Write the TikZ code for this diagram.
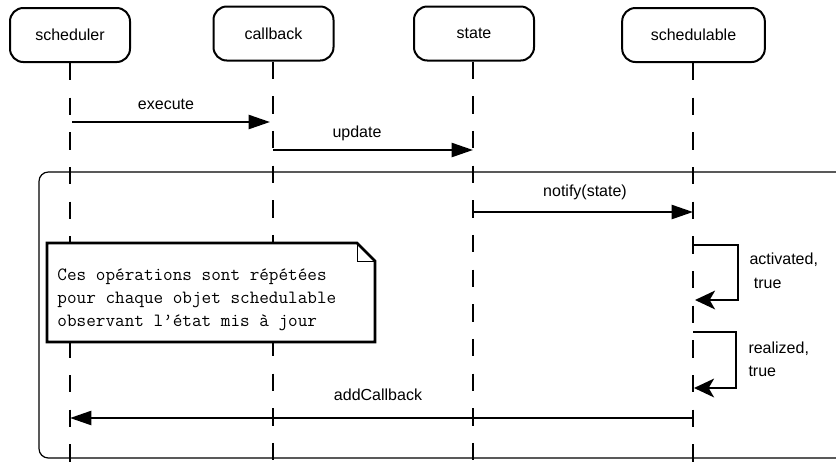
\documentclass[tikz,border=0pt]{standalone}
\usepackage{fontspec}
\setmainfont{Liberation Sans}
\usetikzlibrary{arrows.meta,positioning}

\tikzset{every picture/.style={line width=0.75pt}}
\tikzset{
  actor/.style={draw, line width=1.5pt, rounded corners=10pt, minimum width=90pt,
    minimum height=40.5pt, inner sep=0.75pt, font=\fontsize{12}{14}\selectfont},
  lifeline/.style={line width=1.5pt, dash pattern=on 13pt off 13pt},
  msg/.style={line width=1.8pt, -{Triangle[length=16pt,width=10.5pt]}},
  selfmsg/.style={line width=1.8pt, -{Stealth[length=15pt,width=14pt,inset=4pt]}},
  lbl/.style={inner sep=0.75pt, font=\fontsize{12}{14}\selectfont},
}

\begin{document}
\begin{tikzpicture}[x=0.75pt,y=0.75pt,yscale=-1,xscale=1]
\useasboundingbox (0,0) rectangle (836,469);

% actors
\node [actor] (sched) at (70,35) {scheduler};
\node [actor] (cb) at (273.5,33.5) {callback};
\node [actor] (st) at (474,33.5) {state};
\node [actor, minimum width=107pt] (sa) at (693.5,35) {schedulable};

% lifeline ends
\coordinate (schedEnd) at (70,469);
\coordinate (cbEnd) at (273,469);
\coordinate (stEnd) at (473,469);
\coordinate (saEnd) at (693,469);

\draw [lifeline] (sched.south -| schedEnd) -- (schedEnd);
\draw [lifeline] (cb.south -| cbEnd) -- (cbEnd);
\draw [lifeline] (st.south -| stEnd) -- (stEnd);
\draw [lifeline] (sa.south -| saEnd) -- (saEnd);

% loop frame
\draw [line width=0.9pt, rounded corners=7pt] (836,172) -- (39,172) -- (39,458) -- (836,458);

% note
\draw [line width=2pt, fill=white] (47,243) -- (357,243) -- (375,261) -- (375,342) -- (47,342) -- cycle;
\draw (357,243) -- (357,261) -- (375,261);
\node [anchor=west, align=left, inner sep=0.75pt, font=\ttfamily\fontsize{14}{17.25}\selectfont] (note) at (56,300)
  {Ces opérations sont répétées\\pour chaque objet schedulable\\observant l’état mis à jour};

% messages
\coordinate (m1a) at (72,122);  \coordinate (m1b) at (270,122);
\coordinate (m2a) at (273,150); \coordinate (m2b) at (473,150);
\coordinate (m3a) at (473,212); \coordinate (m3b) at (693,212);
\coordinate (m4a) at (693,245); \coordinate (m4b) at (695,300);
\coordinate (m5a) at (693,332); \coordinate (m5b) at (694,388);
\coordinate (m6a) at (693,418); \coordinate (m6b) at (70,418);

\draw [msg] (m1a) -- (m1b);
\draw [msg] (m2a) -- (m2b);
\draw [msg] (m3a) -- (m3b);
\draw [selfmsg] (m4a) -- ++(45,0) |- (m4b);
\draw [selfmsg] (m5a) -- ++(43,0) |- (m5b);
\draw [msg] (m6a) -- (m6b);

% labels
\node [lbl] (lexec) at (166,104) {execute};
\node [lbl] (lupd) at (357,133) {update};
\node [lbl] (lnot) at (585,192) {notify(state)};
\node [lbl, anchor=west, align=left, font=\fontsize{12}{18}\selectfont] (lact) at (748,271) {activated,\\ \ true};
\node [lbl, anchor=west, align=left, font=\fontsize{12}{17}\selectfont] (lrea) at (747,359) {realized,\\true};
\node [lbl] (ladd) at (378,395) {addCallback};
\end{tikzpicture}
\end{document}
